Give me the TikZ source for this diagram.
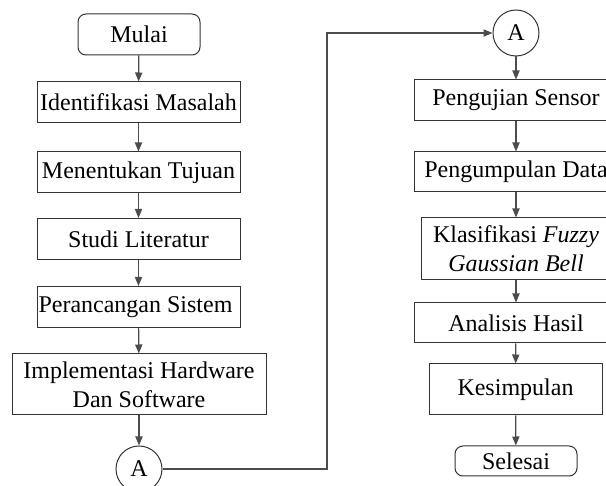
\documentclass[tikz,border=0pt]{standalone}
\usepackage{fontspec}
\setmainfont{Liberation Serif}
\usepackage{tikz}
\usetikzlibrary{arrows.meta}

\begin{document}
\begin{tikzpicture}[x=0.5pt,y=-0.5pt,
    box/.style={draw=black!80, line width=0.5pt, inner sep=0pt, align=center,
      font=\fontsize{12}{14.5}\selectfont},
    term/.style={box, rounded corners=4pt},
    conn/.style={box, circle, minimum size=23pt},
    arr/.style={draw=black!70, line width=0.6pt, -{Triangle[length=4.5pt,width=3.6pt]}}]
    \clip (0,0) rectangle (606,486);
    % left column
    \node[term, minimum width=61pt, minimum height=20.5pt] (mulai) at (139,34.5) {Mulai};
    \foreach \n/\y/\t in {
     idm/102.5/Identifikasi Masalah,tuj/172.5/Menentukan Tujuan,
     lit/239/Studi Literatur,ran/307/Perancangan Sistem
     } {
      \node[box, minimum width=101.5pt, minimum height=20.5pt] (\n) at (138.5,\y) {\t};
     }
    \node[box, minimum width=127pt, minimum height=30.5pt] (imp) at (139,384.5)
      {Implementasi Hardware\\Dan Software};
    \node[conn] (A1) at (139,469) {A};
    % right column
    \node[conn] (A2) at (516,33) {A};
    \node[box, minimum width=102pt, minimum height=20.5pt] (uji) at (516,100.5) {Pengujian Sensor};
    \node[box, minimum width=102pt, minimum height=20pt] (kum) at (516,172) {Pengumpulan Data};
    \node[box, minimum width=95pt, minimum height=31pt] (kla) at (516,249)
      {Klasifikasi \textit{Fuzzy}\\\textit{Gaussian Bell}};
    \node[box, minimum width=102pt, minimum height=20pt] (ana) at (516,323) {Analisis Hasil};
    \node[box, minimum width=86.5pt, minimum height=25.5pt] (kes) at (515.5,389.5) {Kesimpulan};
    \node[term, minimum width=61pt, minimum height=15pt] (sel) at (516,461) {Selesai};
    % arrows
    \foreach \a/\b in {mulai/idm,idm/tuj,tuj/lit,lit/ran,ran/imp,imp/A1,
     A2/uji,uji/kum,kum/kla,kla/ana,ana/kes,kes/sel} {
      \draw[arr] (\a) -- (\b);
     }
    \coordinate (bend) at (327,33);
    \draw[arr] (A1.east) -| (bend) -- (A2.west);
\end{tikzpicture}
\end{document}
